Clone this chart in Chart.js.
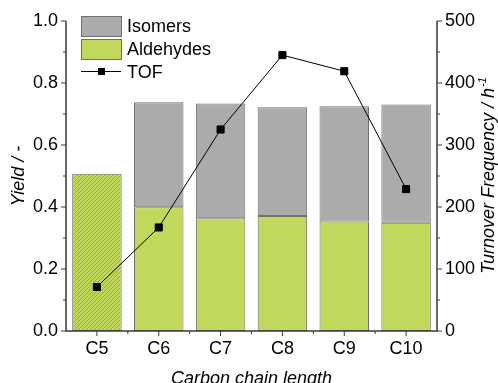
<!DOCTYPE html>
<html>
<head>
<meta charset="utf-8">
<script src="https://cdn.jsdelivr.net/npm/chart.js@4.4.0/dist/chart.umd.min.js"></script>
<style>
  html, body { margin: 0; padding: 0; background: #fff; overflow: hidden; }
  #wrap { width: 498px; height: 383px; }
</style>
</head>
<body>
<div id="wrap"><canvas id="yieldChart" width="498" height="383"></canvas></div>
<script>
let categories = ['C5', 'C6', 'C7', 'C8', 'C9', 'C10']
let aldehydes = [0.507, 0.399, 0.364, 0.371, 0.353, 0.349]
let isomers = [0, 0.339, 0.370, 0.351, 0.372, 0.382]
let tof = [71, 167, 325, 445, 419, 229]
let yieldTicks = [0.0, 0.2, 0.4, 0.6, 0.8, 1.0]
let tofTicks = [0, 100, 200, 300, 400, 500]

let color_green = '#c0d85c'
let color_gray = '#ababab'
let color_edge = '#6f6f6f'
let color_axis = '#3a3a3a'
let font_family = "'Liberation Sans', Arial, sans-serif"

// hatched fill for the C5 bar
let makeHatch = function () {
    let c = document.createElement('canvas');
    c.width = 4; c.height = 4;
    let g = c.getContext('2d');
    g.fillStyle = color_green;
    g.fillRect(0, 0, 4, 4);
    g.strokeStyle = '#8ca83c';
    g.lineWidth = 0.9;
    g.beginPath();
    g.moveTo(0, 4); g.lineTo(4, 0);
    g.moveTo(-1, 1); g.lineTo(1, -1);
    g.moveTo(3, 5); g.lineTo(5, 3);
    g.stroke();
    return g.createPattern(c, 'repeat');
};

let axisPlugin = {
    id: 'axisPlugin',
    afterDraw: function (chart) {
        let ctx = chart.ctx;
        let area = chart.chartArea;
        let y = chart.scales.y, y1 = chart.scales.y1, x = chart.scales.x;
        ctx.save();
        ctx.strokeStyle = color_axis;
        ctx.lineWidth = 1.5;
        ctx.beginPath();
        ctx.moveTo(area.left, area.top); ctx.lineTo(area.left, area.bottom);
        ctx.lineTo(area.right, area.bottom); ctx.lineTo(area.right, area.top);
        ctx.stroke();
        ctx.lineWidth = 1;
        ctx.beginPath();
        for (let i = 0; i <= 10; i++) {
            let v = i / 10;
            let py = y.getPixelForValue(v);
            let len = i % 2 === 0 ? 5 : 3;
            ctx.moveTo(area.left, py); ctx.lineTo(area.left - len, py);
            let py1 = y1.getPixelForValue(v * 500);
            ctx.moveTo(area.right, py1); ctx.lineTo(area.right + len, py1);
        }
        for (let i = 0; i < categories.length; i++) {
            let px = x.getPixelForValue(i);
            ctx.moveTo(px, area.bottom); ctx.lineTo(px, area.bottom + 5);
            if (i > 0) {
                let pb = (x.getPixelForValue(i - 1) + px) / 2;
                ctx.moveTo(pb, area.bottom); ctx.lineTo(pb, area.bottom + 3);
            }
        }
        ctx.stroke();

        // axis titles
        ctx.fillStyle = '#000';
        ctx.font = 'italic 18px ' + font_family;
        ctx.textAlign = 'center';
        ctx.textBaseline = 'alphabetic';
        ctx.fillText('Carbon chain length', (area.left + area.right) / 2, 384);
        ctx.textBaseline = 'middle';
        let cy = (area.top + area.bottom) / 2;
        ctx.save();
        ctx.translate(19, cy);
        ctx.rotate(-Math.PI / 2);
        ctx.fillText('Yield / -', 0, 0);
        ctx.restore();
        ctx.save();
        ctx.translate(489, cy);
        ctx.rotate(-Math.PI / 2);
        let main = 'Turnover Frequency / h';
        ctx.font = 'italic 18px ' + font_family;
        let w1 = ctx.measureText(main).width;
        ctx.font = 'italic 11px ' + font_family;
        let w2 = ctx.measureText('-1').width;
        let sx = -(w1 + w2) / 2;
        ctx.textAlign = 'left';
        ctx.font = 'italic 18px ' + font_family;
        ctx.fillText(main, sx, 0);
        ctx.font = 'italic 11px ' + font_family;
        ctx.fillText('-1', sx + w1 + 1, -6);
        ctx.restore();

        // legend inside the plot
        let lx = 81, ly = 16;
        ctx.textAlign = 'left';
        ctx.textBaseline = 'middle';
        ctx.lineWidth = 1;
        ctx.strokeStyle = color_edge;
        ctx.fillStyle = color_gray;
        ctx.fillRect(lx, ly, 40, 20); ctx.strokeRect(lx + 0.5, ly + 0.5, 40, 20);
        ctx.fillStyle = color_green;
        ctx.fillRect(lx, ly + 23, 40, 20); ctx.strokeRect(lx + 0.5, ly + 23.5, 40, 20);
        ctx.strokeStyle = '#000';
        ctx.beginPath();
        ctx.moveTo(lx, ly + 55.5); ctx.lineTo(lx + 40, ly + 55.5);
        ctx.stroke();
        ctx.fillStyle = '#000';
        ctx.fillRect(lx + 17, ly + 52, 7, 7);
        ctx.font = '18px ' + font_family;
        ctx.fillText('Isomers', lx + 46, ly + 11);
        ctx.fillText('Aldehydes', lx + 46, ly + 34);
        ctx.fillText('TOF', lx + 46, ly + 57);
        ctx.restore();
    }
};

let chartDraw = function () {
    let ctx = document.getElementById('yieldChart').getContext('2d');
    let hatch = makeHatch();
    let aldColors = aldehydes.map(function (v, i) { return i === 0 ? hatch : color_green; });

    window.yieldChart = new Chart(ctx, {
        data: {
            labels: categories,
            datasets: [{
                type: 'line',
                label: 'TOF',
                data: tof,
                yAxisID: 'y1',
                borderColor: '#000',
                backgroundColor: '#000',
                borderWidth: 1,
                pointStyle: 'rect',
                pointRadius: 5,
                tension: 0,
                order: 0
            }, {
                type: 'bar',
                label: 'Aldehydes',
                data: aldehydes,
                yAxisID: 'y',
                backgroundColor: aldColors,
                borderColor: color_edge,
                borderWidth: 1,
                borderSkipped: false,
                categoryPercentage: 1,
                barPercentage: 0.8,
                order: 1
            }, {
                type: 'bar',
                label: 'Isomers',
                data: isomers,
                yAxisID: 'y',
                backgroundColor: color_gray,
                borderColor: color_edge,
                borderWidth: 1,
                borderSkipped: false,
                categoryPercentage: 1,
                barPercentage: 0.8,
                order: 2
            }]
        },
        options: {
            responsive: false,
            animation: false,
            layout: { padding: { top: 21, left: 0, right: 0, bottom: 0 } },
            plugins: {
                legend: { display: false },
                tooltip: { enabled: false }
            },
            scales: {
                x: {
                    stacked: true,
                    offset: true,
                    grid: { display: false, drawTicks: false },
                    border: { display: false },
                    ticks: { color: '#000', font: { size: 18, family: font_family }, padding: 7 },
                    afterFit: function (s) { s.height = 52; }
                },
                y: {
                    stacked: true,
                    position: 'left',
                    min: 0, max: 1,
                    afterBuildTicks: function (s) { s.ticks = yieldTicks.map(function (v) { return { value: v }; }); },
                    grid: { display: false, drawTicks: false },
                    border: { display: false },
                    ticks: { color: '#000', font: { size: 18, family: font_family }, padding: 8,
                             callback: function (v) { return v.toFixed(1); } },
                    afterFit: function (s) { s.width = 66; }
                },
                y1: {
                    position: 'right',
                    min: 0, max: 500,
                    afterBuildTicks: function (s) { s.ticks = tofTicks.map(function (v) { return { value: v }; }); },
                    grid: { display: false, drawTicks: false },
                    border: { display: false },
                    ticks: { color: '#000', font: { size: 18, family: font_family }, padding: 8 },
                    afterFit: function (s) { s.width = 61; }
                }
            }
        },
        plugins: [axisPlugin]
    });
};

window.addEventListener('load', function () {
    chartDraw();
})
</script>
</body>
</html>
